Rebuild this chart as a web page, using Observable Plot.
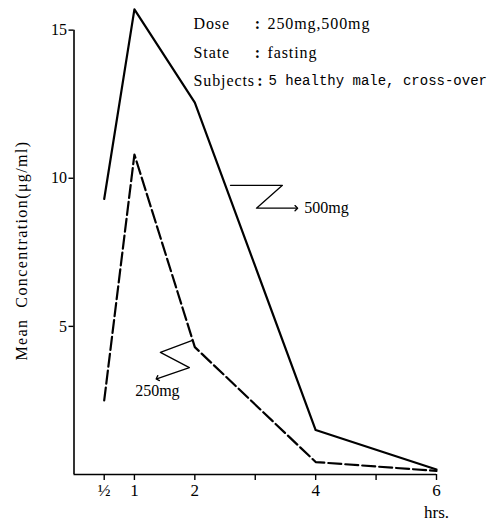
<!DOCTYPE html>
<html>
<head>
<meta charset="utf-8">
<script src="https://cdn.jsdelivr.net/npm/d3@7"></script>
<script src="https://cdn.jsdelivr.net/npm/@observablehq/plot@0.6"></script>
<style>
  html, body { margin: 0; padding: 0; background: #fff; }
  svg { font-family: "Liberation Serif", "DejaVu Serif", serif; }
  g[aria-description="spaced"] text { letter-spacing: 0.9px; }
  g[aria-description="ylabel"] text { letter-spacing: 1.4px; }
</style>
</head>
<body>
<div id="chart"></div>
<script>
// Sampling times (hrs)
const hours = [0.5, 1, 2, 4, 6];
// Mean concentration (µg/ml)
const conc500 = [9.3, 15.7, 12.55, 1.5, 0.17];
const conc250 = [2.5, 10.8, 4.3, 0.42, 0.12];
const doses = ["500mg", "250mg"];

// Axis ticks
const xTicks = [0.5, 1, 2, 3, 4, 5, 6];
const xTickLabels = ["½", "1", "2", "", "4", "", "6"];
const yTicks = [5, 10, 15];

// Info block
const infoLabels = ["Dose", "State", "Subjects"];
const infoValues = ["250mg,500mg", "fasting", "5 healthy male, cross-over"];

// Leader (zig-zag arrow) paths, in data units
const leader500 = [[2.59, 9.76], [3.45, 9.76], [3.02, 8.99], [3.68, 8.99]];
const leader250 = [[1.96, 4.53], [1.43, 4.12], [1.91, 3.61], [1.38, 3.24]];

const s500 = hours.map((h, i) => ({hour: h, conc: conc500[i]}));
const s250 = hours.map((h, i) => ({hour: h, conc: conc250[i]}));

const rowDy = [23, 52, 80];
const infoMarks = infoLabels.flatMap((lab, i) => [
  Plot.text([lab], {frameAnchor: "top-left", textAnchor: "start", lineAnchor: "middle", dx: 119.5, dy: rowDy[i], fontSize: 16, fill: "#000", ariaDescription: "spaced"}),
  Plot.text([":"], {frameAnchor: "top-left", textAnchor: "middle", lineAnchor: "middle", dx: i === 2 ? 186 : 183.5, dy: rowDy[i], fontSize: 16, fontWeight: "bold", fill: "#000"}),
  Plot.text([infoValues[i]], {
    frameAnchor: "top-left", textAnchor: "start", lineAnchor: "middle",
    dx: i === 2 ? 194.5 : 193.5, dy: rowDy[i],
    fontSize: i === 2 ? 14 : 16,
    fontFamily: i === 2 ? "'Liberation Mono', 'DejaVu Sans Mono', monospace" : undefined,
    fill: "#000", ariaDescription: i === 2 ? "mono" : "spaced"
  })
]);

const chart = Plot.plot({
  width: 493,
  height: 522,
  marginTop: 0,
  marginLeft: 73.5,
  marginRight: 57,
  marginBottom: 48,
  style: {fontFamily: "'Liberation Serif', 'DejaVu Serif', serif", background: "#fff", color: "#000"},
  x: {domain: [0, 6]},
  y: {domain: [0, 16]},
  marks: [
    // axis lines
    Plot.ruleX([0], {y1: 0, y2: 15, stroke: "#000", strokeWidth: 1.6}),
    Plot.ruleY([0], {x1: 0, x2: 6, stroke: "#000", strokeWidth: 1.6}),
    Plot.axisX({
      ticks: xTicks,
      tickSize: 6,
      tickPadding: 3,
      tickFormat: (d) => xTickLabels[xTicks.indexOf(d)],
      fontSize: 17,
      label: null,
      strokeWidth: 1.4
    }),
    Plot.axisY({
      ticks: yTicks,
      tickSize: 5,
      tickPadding: 2,
      fontSize: 16,
      label: null,
      strokeWidth: 1.4
    }),
    // data lines
    Plot.line(s500, {x: "hour", y: "conc", stroke: "#000", strokeWidth: 2.2}),
    Plot.line(s250, {x: "hour", y: "conc", stroke: "#000", strokeWidth: 2.2, strokeDasharray: "13,4"}),
    // leaders
    Plot.line(leader500, {x: (d) => d[0], y: (d) => d[1], stroke: "#000", strokeWidth: 1.3, markerEnd: "arrow"}),
    Plot.line(leader250, {x: (d) => d[0], y: (d) => d[1], stroke: "#000", strokeWidth: 1.3, markerEnd: "arrow"}),
    Plot.text([leader500[leader500.length - 1]], {x: (d) => d[0], y: (d) => d[1], text: () => doses[0], textAnchor: "start", dx: 8, fontSize: 16, fill: "#000"}),
    Plot.text([leader250[leader250.length - 1]], {x: (d) => d[0], y: (d) => d[1], text: () => doses[1], textAnchor: "middle", dy: 12, fontSize: 16, fill: "#000"}),
    // info block
    ...infoMarks,
    // axis titles
    Plot.text(["Mean  Concentration(μg/ml)"], {frameAnchor: "left", textAnchor: "middle", rotate: -90, dx: -52, dy: 13, fontSize: 16, fill: "#000", ariaDescription: "ylabel"}),
    Plot.text(["hrs."], {frameAnchor: "bottom-right", textAnchor: "middle", dy: 43, fontSize: 17, fill: "#000"})
  ]
});
document.getElementById("chart").appendChild(chart);
</script>
</body>
</html>
